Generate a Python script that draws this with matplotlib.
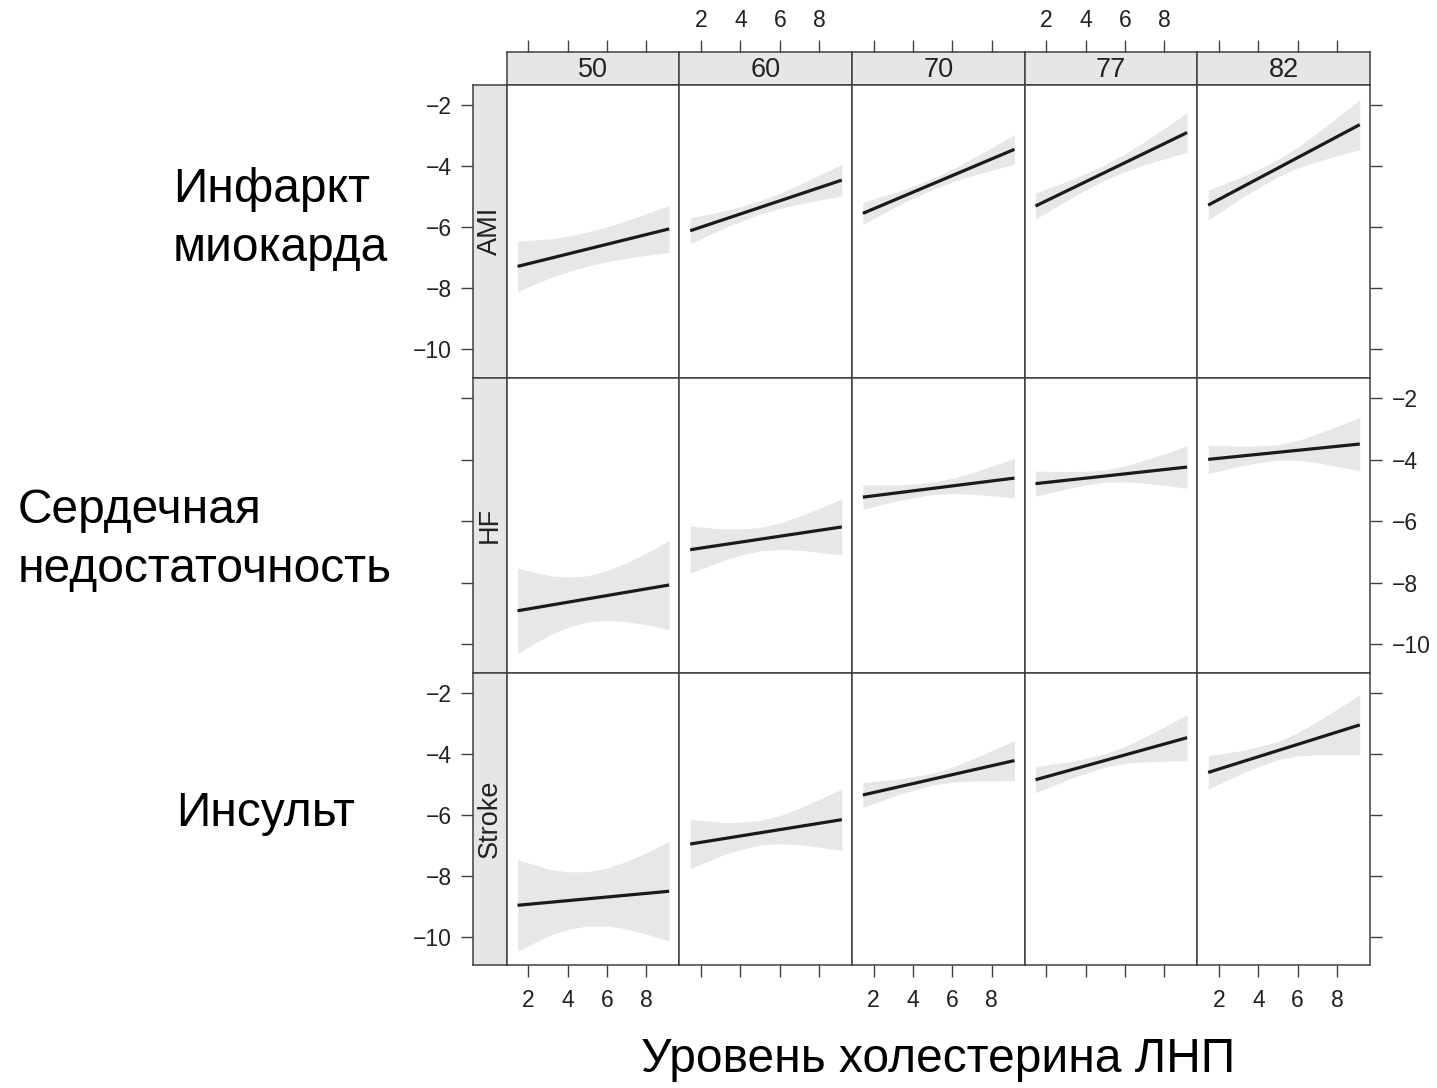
import matplotlib
matplotlib.use('Agg')
from matplotlib import pyplot as plt
import numpy as np

plt.rcParams['font.family'] = ['Liberation Sans', 'DejaVu Sans']

# panel layout: columns = age, rows = outcome
ages = ['50', '60', '70', '77', '82']
outcomes = ['AMI', 'HF', 'Stroke']
outcome_names = ['Инфаркт\nмиокарда', 'Сердечная\nнедостаточность', 'Инсульт']
x_title = 'Уровень холестерина ЛНП'

# fitted log-risk at the ends of the LDL range, one list per outcome (ages 50..82)
ldl_range = [1.45, 9.15]
fit_start = [
    [-7.28, -6.11, -5.54, -5.30, -5.27],
    [-8.92, -6.93, -5.22, -4.78, -3.99],
    [-8.97, -6.96, -5.35, -4.85, -4.61],
]
fit_end = [
    [-6.05, -4.45, -3.44, -2.89, -2.63],
    [-8.08, -6.19, -4.60, -4.24, -3.49],
    [-8.51, -6.16, -4.22, -3.47, -3.05],
]

# half-width of the confidence band at these LDL values
band_x = [1.45, 2.3, 3.2, 4.1, 5.0, 6.0, 7.0, 8.1, 9.15]
band_hw = [
    [[0.83, 0.73, 0.63, 0.58, 0.56, 0.57, 0.62, 0.69, 0.77],
     [0.42, 0.35, 0.28, 0.24, 0.22, 0.25, 0.32, 0.42, 0.52],
     [0.36, 0.30, 0.23, 0.20, 0.18, 0.21, 0.28, 0.38, 0.48],
     [0.43, 0.37, 0.30, 0.27, 0.25, 0.29, 0.38, 0.51, 0.65],
     [0.49, 0.42, 0.34, 0.30, 0.28, 0.34, 0.47, 0.64, 0.82]],
    [[1.39, 1.16, 0.94, 0.81, 0.75, 0.81, 0.96, 1.19, 1.45],
     [0.77, 0.64, 0.50, 0.42, 0.38, 0.43, 0.55, 0.73, 0.91],
     [0.40, 0.33, 0.26, 0.22, 0.20, 0.25, 0.35, 0.50, 0.64],
     [0.41, 0.34, 0.27, 0.22, 0.20, 0.26, 0.38, 0.53, 0.69],
     [0.46, 0.39, 0.31, 0.27, 0.25, 0.32, 0.47, 0.67, 0.87]],
    [[1.50, 1.28, 1.06, 0.94, 0.89, 0.95, 1.11, 1.36, 1.64],
     [0.81, 0.67, 0.52, 0.44, 0.40, 0.46, 0.60, 0.80, 1.01],
     [0.41, 0.34, 0.26, 0.22, 0.20, 0.25, 0.36, 0.51, 0.66],
     [0.43, 0.36, 0.28, 0.24, 0.22, 0.28, 0.41, 0.58, 0.75],
     [0.55, 0.46, 0.37, 0.32, 0.30, 0.38, 0.55, 0.77, 0.99]],
]

x_ticks = [2, 4, 6, 8]
y_ticks = [-2, -4, -6, -8, -10]
y_ticklabels = ['\u22122', '\u22124', '\u22126', '\u22128', '\u221210']

XLIM = (0.9, 9.67)
YLIM = (-10.93, -1.33)

W, H = 1437, 1088
fig = plt.figure(figsize=(W / 100, H / 100), dpi=100)


def box(x0, y0, x1, y1):
    return [x0 / W, 1 - y1 / H, (x1 - x0) / W, (y1 - y0) / H]


frame = '#404040'
strip_bg = '#e6e6e6'
band_col = '#e6e7e6'
col_edges = np.linspace(506.7, 1370, 6)
row_edges = [85, 377.7, 672.5, 965]
tick_kw = dict(length=8.5, width=1.0, color=frame, labelsize=16.5, labelcolor='#222222')


def style(ax):
    for s in ax.spines.values():
        s.set_color(frame)
        s.set_linewidth(1.1)


# strips along the top, with the alternating x axis above them
for j, age in enumerate(ages):
    ax = fig.add_axes(box(col_edges[j], 51.7, col_edges[j + 1], 85))
    ax.set_facecolor(strip_bg)
    style(ax)
    ax.set_xlim(XLIM)
    ax.set_yticks([])
    ax.xaxis.tick_top()
    ax.set_xticks(x_ticks)
    ax.set_xticklabels([str(t) for t in x_ticks] if j % 2 == 1 else [])
    ax.tick_params(axis='x', pad=6, **tick_kw)
    ax.text(0.5, 0.45, age, transform=ax.transAxes, ha='center', va='center',
            fontsize=19.5, color='#222222')

# strips down the left side, with the alternating y axis
for i, name in enumerate(outcomes):
    ax = fig.add_axes(box(473.3, row_edges[i], 506.7, row_edges[i + 1]))
    ax.set_facecolor(strip_bg)
    style(ax)
    ax.set_ylim(YLIM)
    ax.set_xticks([])
    ax.set_yticks(y_ticks)
    ax.set_yticklabels(y_ticklabels if i % 2 == 0 else [])
    ax.tick_params(axis='y', pad=7, **tick_kw)
    ax.text(0.5, 0.5, name, transform=ax.transAxes, ha='center', va='center',
            rotation=90, fontsize=19.5, color='#222222')

# panels
for i in range(3):
    for j in range(5):
        ax = fig.add_axes(box(col_edges[j], row_edges[i], col_edges[j + 1], row_edges[i + 1]))
        style(ax)
        ax.set_xlim(XLIM)
        ax.set_ylim(YLIM)
        y0, y1 = fit_start[i][j], fit_end[i][j]
        bx = np.array(band_x)
        mid = y0 + (y1 - y0) * (bx - ldl_range[0]) / (ldl_range[1] - ldl_range[0])
        hw = np.array(band_hw[i][j])
        ax.fill_between(bx, mid - hw, mid + hw, color=band_col, lw=0)
        ax.plot(ldl_range, [y0, y1], color='#1a1a1a', lw=2.3, solid_capstyle='butt')

        ax.set_xticks([])
        ax.set_yticks([])
        if i == 2:
            ax.set_xticks(x_ticks)
            ax.set_xticklabels([str(t) for t in x_ticks] if j % 2 == 0 else [])
            ax.tick_params(axis='x', pad=9, **tick_kw)
        if j == 4:
            ax.yaxis.tick_right()
            ax.set_yticks(y_ticks)
            ax.set_yticklabels(y_ticklabels if i == 1 else [])
            ax.tick_params(axis='y', pad=7, **tick_kw)

# outcome names on the left and the x title
name_kw = dict(ha='left', va='center', fontsize=34.5, linespacing=1.42)
fig.text(173 / W, 1 - 219 / H, outcome_names[0], **name_kw)
fig.text(18 / W, 1 - 540 / H, outcome_names[1], **name_kw)
fig.text(176 / W, 1 - 813 / H, outcome_names[2], **name_kw)
fig.text(938 / W, 1 - 1060 / H, x_title, ha='center', va='center', fontsize=34.5)

fig.savefig('out.png', dpi=100)
